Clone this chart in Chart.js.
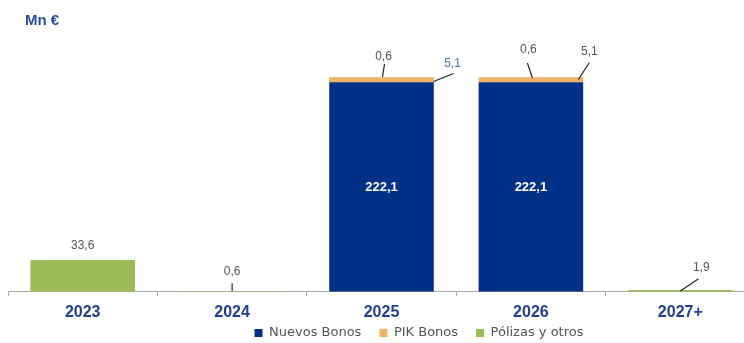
<!DOCTYPE html>
<html>
<head>
<meta charset="utf-8">
<script src="https://cdn.jsdelivr.net/npm/chart.js@4"></script>
<style>
  html, body { margin: 0; padding: 0; background: #fff; overflow: hidden; }
  #wrap { width: 744px; height: 343px; overflow: hidden; }
</style>
</head>
<body>
<!-- the last category runs past the right edge in the original, so the canvas is a bit wider -->
<div id="wrap"><canvas id="chart" width="755" height="343"></canvas></div>
<script>
// data
const years = ['2023', '2024', '2025', '2026', '2027+'];
const nuevosBonos = [0, 0, 222.1, 222.1, 0];
const pikBonos = [0, 0, 5.1, 5.1, 0];
const polizas = [33.6, 0.6, 0.6, 0.6, 1.9];

const BLUE = '#003087';
const ORANGE = '#f2b166';
const GREEN = '#9bbb59';
const fmt = v => v.toFixed(1).replace('.', ',');

// label placement, offsets from the top of the segment
const callouts = [
    { ds: 2, i: 0, dx: 0, dy: -14, line: false },
    { ds: 2, i: 1, dx: 0, dy: -20, line: true, lx: 0, ly: -8 },
    { ds: 2, i: 2, dx: 2, dy: -20, line: true, x0: 1, y0: 0, lx: 3, ly: -13 },
    { ds: 1, i: 2, dx: 71, dy: -14, line: true, x0: 52, y0: 4, lx: 72, ly: -4, color: '#4a6fb5' },
    { ds: 2, i: 3, dx: -2.5, dy: -27, line: true, x0: 1.5, y0: 1, lx: -3.5, ly: -14 },
    { ds: 1, i: 3, dx: 58.5, dy: -26, line: true, x0: 47.5, y0: 2, lx: 58.5, ly: -15 },
    { ds: 2, i: 4, dx: 21, dy: -22, line: true, x0: 0, y0: 1, lx: 18, ly: -11 }
];

const labelPlugin = {
    id: 'labels',
    afterLayout(chart) {
        // legend sits right of centre and a bit higher in the original
        const lg = chart.legend;
        const shift = 419 - (lg.left + lg.right) / 2;
        lg.left += shift;
        lg.right += shift;
        lg.top = 333 - 6.5 - lg.options.labels.padding;
    },
    afterDatasetsDraw(chart) {
        const ctx = chart.ctx;
        ctx.save();
        ctx.textBaseline = 'middle';
        ctx.fillStyle = '#2a4fa0';
        ctx.textAlign = 'left';
        ctx.font = 'bold 15px "Liberation Sans", Arial';
        ctx.fillText('Mn €', 25, 21);
        ctx.textAlign = 'center';
        // values inside the blue bars
        chart.getDatasetMeta(0).data.forEach((bar, i) => {
            if (!nuevosBonos[i]) return;
            ctx.fillStyle = '#fff';
            ctx.font = 'bold 13px "Liberation Sans", Arial';
            ctx.fillText(fmt(nuevosBonos[i]), bar.x, (bar.y + bar.base) / 2);
        });
        ctx.font = '12px "Liberation Sans", Arial';
        callouts.forEach(c => {
            const bar = chart.getDatasetMeta(c.ds).data[c.i];
            const val = chart.data.datasets[c.ds].data[c.i];
            const top = bar.y;
            if (c.line) {
                ctx.strokeStyle = '#222';
                ctx.lineWidth = 1.2;
                ctx.beginPath();
                ctx.moveTo(bar.x + (c.x0 || 0), top + (c.y0 || 0));
                ctx.lineTo(bar.x + c.lx, top + c.ly);
                ctx.stroke();
            }
            ctx.fillStyle = c.color || '#555';
            ctx.fillText(fmt(val), bar.x + c.dx, top + c.dy);
        });
        ctx.restore();
    }
};

new Chart(document.getElementById('chart'), {
    type: 'bar',
    data: {
        labels: years,
        datasets: [
            { label: 'Nuevos Bonos', data: nuevosBonos, backgroundColor: BLUE },
            { label: 'PIK Bonos', data: pikBonos, backgroundColor: ORANGE },
            { label: 'Pólizas y otros', data: polizas, backgroundColor: GREEN }
        ]
    },
    options: {
        responsive: false,
        animation: false,
        layout: { padding: { left: 8, right: 0, top: 40, bottom: 0 } },
        datasets: { bar: { barPercentage: 0.7, categoryPercentage: 1.0 } },
        scales: {
            x: {
                stacked: true,
                grid: { display: true, drawOnChartArea: false, offset: true, tickLength: 4, color: '#aaa' },
                border: { color: '#aaa' },
                ticks: {
                    color: '#1f3f8f',
                    font: { family: '"Liberation Sans", Arial', size: 16, weight: 'bold' },
                    padding: 7
                }
            },
            y: { stacked: true, display: false, min: 0, max: 267 }
        },
        plugins: {
            legend: {
                position: 'bottom',
                maxHeight: 14,
                labels: {
                    boxWidth: 8, boxHeight: 8, padding: 18, color: '#555',
                    font: { family: '"DejaVu Sans", sans-serif', size: 13 }
                }
            },
            tooltip: { enabled: false }
        }
    },
    plugins: [labelPlugin]
});
</script>
</body>
</html>
